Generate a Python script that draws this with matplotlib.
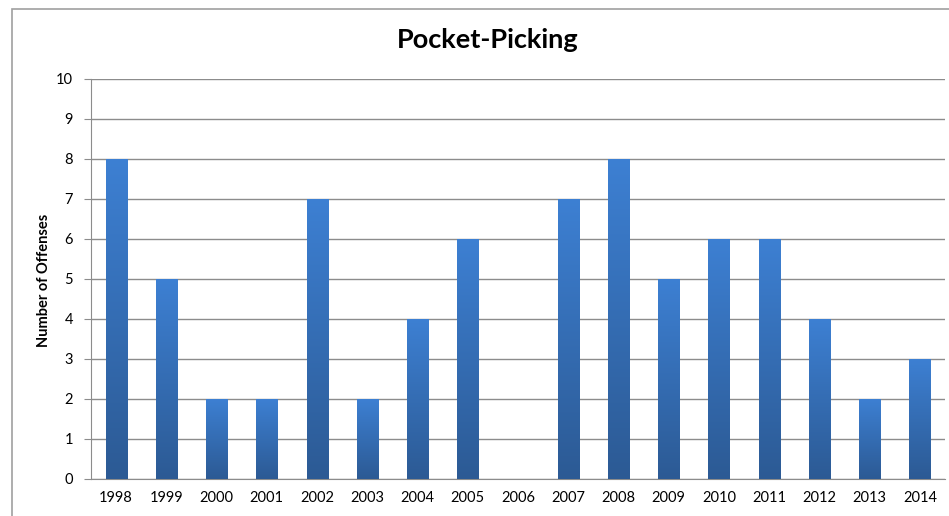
import matplotlib
matplotlib.use("Agg")
import matplotlib.pyplot as plt
import numpy as np
from matplotlib.patches import Rectangle
from matplotlib.colors import LinearSegmentedColormap

# chart data
years = ['1998', '1999', '2000', '2001', '2002', '2003', '2004', '2005', '2006',
         '2007', '2008', '2009', '2010', '2011', '2012', '2013', '2014']
offenses = [8, 5, 2, 2, 7, 2, 4, 6, 0, 7, 8, 5, 6, 6, 4, 2, 3]

plt.rcParams['font.family'] = ['Lato', 'DejaVu Sans']

W, H = 949, 516
fig = plt.figure(figsize=(W / 100, H / 100), dpi=100)
ax = fig.add_axes([91 / W, 1 - 479 / H, (945 - 91) / W, 400 / H])

# outer chart border (runs off the right and bottom)
fig.patches.append(Rectangle((12 / W, -0.1), 1.1, 1 - 9 / H + 0.1,
                             transform=fig.transFigure, fill=False,
                             edgecolor='#a0a0a0', linewidth=1.2))

grad = LinearSegmentedColormap.from_list('bar', ['#2c5a94', '#3d80d3'])
x = np.arange(len(years))
bars = ax.bar(x, offenses, width=0.42, color='none', zorder=3)
g = np.linspace(0, 1, 256).reshape(-1, 1)
for b, v in zip(bars, offenses):
    if v <= 0:
        continue
    x0 = b.get_x()
    im = ax.imshow(g, cmap=grad, origin='lower', aspect='auto',
                   extent=[x0, x0 + b.get_width(), 0, v], zorder=3)
    im.set_clip_path(b)

ax.set_xlim(-0.5, len(years) - 0.5)
ax.set_ylim(0, 10)
ax.set_yticks(range(11))
ax.set_xticks(x)
ax.set_xticklabels(years)
ax.yaxis.grid(True, color='#8c8c8c', linewidth=1)
ax.set_axisbelow(True)
for s in ['top', 'right']:
    ax.spines[s].set_visible(False)
for s in ['left', 'bottom']:
    ax.spines[s].set_color('#8c8c8c')
ax.tick_params(axis='y', length=5, color='#8c8c8c', labelsize=10.5, pad=8)
ax.tick_params(axis='x', length=0, labelsize=10.5, pad=9)

fig.text(488 / W, 1 - 40 / H, 'Pocket-Picking', ha='center', va='center',
         fontsize=19.5, fontweight='bold')
fig.text(44 / W, 1 - 280 / H, 'Number of Offenses', ha='center', va='center',
         rotation=90, fontsize=10.5, fontweight='bold')

fig.savefig('out.png', dpi=100)
